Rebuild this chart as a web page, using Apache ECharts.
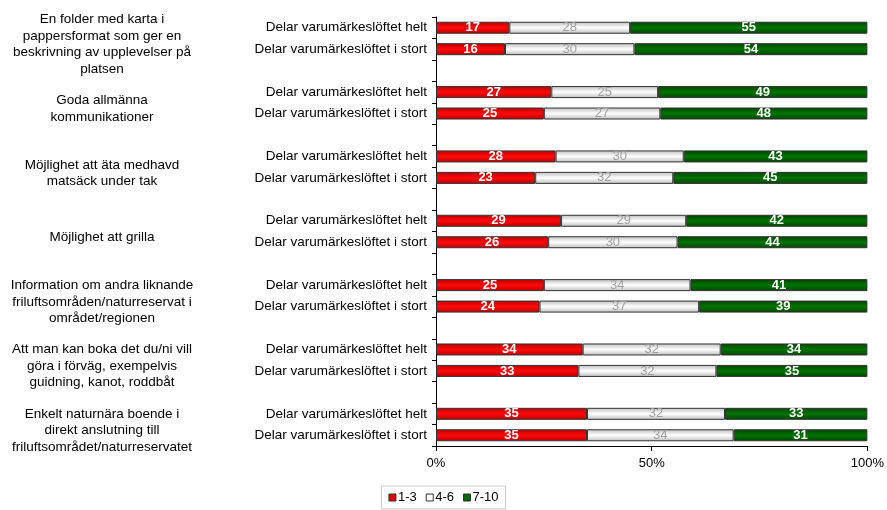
<!DOCTYPE html>
<html>
<head>
<meta charset="utf-8">
<script src="https://cdn.jsdelivr.net/npm/echarts@6/dist/echarts.min.js"></script>
<style>
html,body{margin:0;padding:0;background:#fff;}
#chart{width:887px;height:510px;}
</style>
</head>
<body>
<div id="chart"></div>
<script>
const groupLabels = [
  'En folder med karta i\npappersformat som ger en\nbeskrivning av upplevelser på\nplatsen',
  'Goda allmänna\nkommunikationer',
  'Möjlighet att äta medhavd\nmatsäck under tak',
  'Möjlighet att grilla',
  'Information om andra liknande\nfriluftsområden/naturreservat i\nområdet/regionen',
  'Att man kan boka det du/ni vill\ngöra i förväg, exempelvis\nguidning, kanot, roddbåt',
  'Enkelt naturnära boende i\ndirekt anslutning till\nfriluftsområdet/naturreservatet'
];
const rowLabels = ['Delar varumärkeslöftet helt', 'Delar varumärkeslöftet i stort'];
const seriesNames = ['1-3', '4-6', '7-10'];
const low  = [17, 16, 27, 25, 28, 23, 29, 26, 25, 24, 34, 33, 35, 35];
const mid  = [28, 30, 25, 27, 30, 32, 29, 30, 34, 37, 32, 32, 32, 34];
const high = [55, 54, 49, 48, 43, 45, 42, 44, 41, 39, 34, 35, 33, 31];
const xTicks = ['0%', '50%', '100%'];

const FONT = 'Liberation Sans, Arial, sans-serif';

// Build category rows: two bars per group, empty spacer row between groups
const categories = [];
const rowIndex = []; // index into value arrays, or -1 for spacer
const groupFirstRow = [];
groupLabels.forEach((g, gi) => {
  groupFirstRow.push(categories.length);
  rowLabels.forEach((r, ri) => {
    categories.push(r);
    rowIndex.push(gi * 2 + ri);
  });
  if (gi < groupLabels.length - 1) {
    categories.push('');
    rowIndex.push(-1);
  }
});

const raw = [low, mid, high];
// 100% stacked: normalise each row to its total
function seriesData(k) {
  return rowIndex.map(i => {
    if (i < 0) return null;
    const tot = low[i] + mid[i] + high[i];
    return { value: raw[k][i] * 100 / tot, orig: raw[k][i] };
  });
}

function grad(edge, center) {
  return new echarts.graphic.LinearGradient(0, 0, 0, 1, [
    { offset: 0, color: edge },
    { offset: 0.5, color: center },
    { offset: 1, color: edge }
  ]);
}
const fills = [grad('#b80000', '#ff0a0a'), grad('#bdbdbd', '#ffffff'), grad('#004400', '#007400')];
const solid = ['#e00000', '#ffffff', '#006400'];
const labelColors = ['#ffffff', '#a0a0a0', '#ffffff'];
const labelWeights = ['bold', 'normal', 'bold'];

const chart = echarts.init(document.getElementById('chart'), null, { renderer: 'canvas' });

const option = {
  animation: false,
  backgroundColor: '#ffffff',
  textStyle: { fontFamily: FONT },
  grid: { left: 436, right: 17, top: 17, bottom: 64, containLabel: false },
  legend: {
    bottom: 1,
    left: 'center',
    itemWidth: 7,
    itemHeight: 7,
    itemGap: 9,
    padding: [5, 7, 5, 7],
    borderColor: '#c8c8c8',
    borderWidth: 1,
    textStyle: { fontSize: 13, color: '#000', padding: [0, 0, 0, -3], fontFamily: FONT },
    data: seriesNames.map((n, k) => ({
      name: n,
      icon: 'rect',
      itemStyle: { color: solid[k], borderColor: '#333', borderWidth: 1 }
    }))
  },
  xAxis: {
    type: 'value',
    min: 0,
    max: 100,
    interval: 50,
    splitLine: { show: false },
    axisLine: { show: true, lineStyle: { color: '#000', width: 1 } },
    axisTick: { show: true, length: 5, lineStyle: { color: '#000' } },
    axisLabel: {
      fontSize: 13,
      color: '#000',
      margin: 11,
      fontFamily: FONT,
      formatter: v => xTicks[Math.round(v / 50)]
    }
  },
  yAxis: {
    type: 'category',
    inverse: true,
    data: categories,
    axisLine: { show: true, lineStyle: { color: '#000', width: 1 } },
    axisTick: { show: true, length: 4, lineStyle: { color: '#000' } },
    axisLabel: { fontSize: 13.5, color: '#000', margin: 9, fontFamily: FONT }
  },
  series: seriesNames.map((n, k) => ({
    name: n,
    type: 'bar',
    stack: 'total',
    barCategoryGap: '44%',
    data: seriesData(k),
    itemStyle: { color: fills[k], borderColor: '#333', borderWidth: 1 },
    label: {
      show: true,
      position: 'inside',
      fontSize: 13,
      fontFamily: FONT,
      fontWeight: labelWeights[k],
      color: labelColors[k],
      formatter: p => (p.data && p.data.orig != null) ? String(p.data.orig) : ''
    }
  }))
};
chart.setOption(option);

// Group labels on the far left, centred on their pair of bars
const graphics = groupLabels.map((g, gi) => {
  const r0 = groupFirstRow[gi];
  const y0 = chart.convertToPixel({ yAxisIndex: 0 }, r0);
  const y1 = chart.convertToPixel({ yAxisIndex: 0 }, r0 + 1);
  return {
    type: 'text',
    x: 102,
    y: (y0 + y1) / 2 + 6,
    style: {
      text: g,
      fontSize: 13.5,
      lineHeight: 16.5,
      fontFamily: FONT,
      fill: '#000',
      align: 'center',
      verticalAlign: 'middle'
    }
  };
});
chart.setOption({ graphic: graphics });
</script>
</body>
</html>
